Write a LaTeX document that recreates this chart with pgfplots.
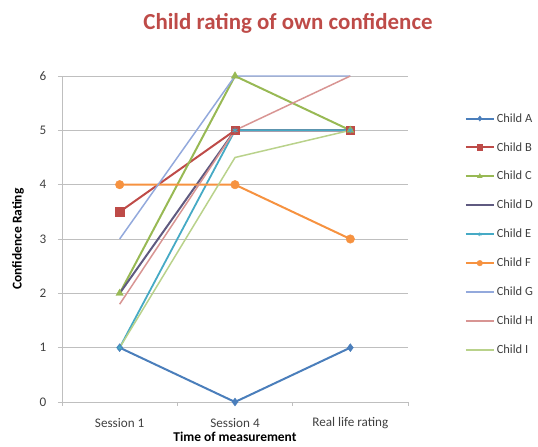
\documentclass[border=0pt]{standalone}
\usepackage{pgfplots}
\pgfplotsset{compat=1.18}
\usepackage{fontspec}
\setmainfont{Carlito}
\definecolor{cA}{HTML}{4A7EBB}
\definecolor{cB}{HTML}{BE4B48}
\definecolor{cC}{HTML}{98B954}
\definecolor{cD}{HTML}{5F5A80}
\definecolor{cE}{HTML}{46AAC5}
\definecolor{cF}{HTML}{F69240}
\definecolor{cG}{HTML}{93A9DC}
\definecolor{cH}{HTML}{D89593}
\definecolor{cI}{HTML}{B9D28B}
\definecolor{gridc}{HTML}{BFBFBF}
\definecolor{txt}{HTML}{404040}
\begin{document}
\begin{tikzpicture}
\useasboundingbox (0,0) rectangle (538bp,447bp);
\node[font=\fontsize{23}{26}\selectfont\bfseries, text=cB] at (288bp,424bp) {Child rating of own confidence};
\begin{axis}[
  at={(62bp,45bp)}, anchor=south west,
  scale only axis, width=346bp, height=326bp,
  xmin=-0.5, xmax=2.5, ymin=0, ymax=6,
  xtick={0,1,2},
  xticklabels={Session 1, Session 4, Real life rating},
  minor xtick={-0.5,0.5,1.5,2.5},
  major x tick style={draw=none},
  minor tick length=4bp,
  ytick={0,1,...,6},
  ymajorgrids, grid style={gridc, line width=0.6pt},
  axis x line*=bottom, axis y line*=left,
  axis line style={gridc, line width=0.8pt},
  every tick/.style={gridc, line width=0.8pt},
  tick align=outside, major tick length=4bp,
  tick label style={font=\fontsize{13.2}{15}\selectfont, text=txt},
  /pgf/number format/assume math mode=true,
  xticklabel style={anchor=center, yshift=-17bp},
  yticklabel style={anchor=center, xshift=-15bp},
  xlabel={Time of measurement}, ylabel={Confidence Rating},
  label style={font=\fontsize{13.5}{15}\selectfont\bfseries, text=black},
  xlabel style={at={(axis description cs:0.5,-0.106)}, anchor=center, inner sep=1pt},
  ylabel style={at={(axis description cs:-0.127,0.5)}, anchor=center},
  legend style={at={(1.155,0.898)}, anchor=north west, draw=none,
    font=\fontsize{12.5}{14}\selectfont, row sep=14.8bp, text=txt},
  legend cell align=left,
  legend image code/.code={\draw[mark repeat=2,mark phase=2, every mark/.append style={scale=0.65}] plot coordinates {(0bp,0bp) (14bp,0bp) (28bp,0bp)};},
  clip=false,
]
\addplot[cA, line width=2pt, mark=diamond*, mark size=4pt, mark options={line width=0.4pt}] coordinates {(0,1) (1,0) (2,1)};
\addplot[cB, line width=2pt, mark=square*, mark size=4.3pt, mark options={line width=0.4pt}] coordinates {(0,3.5) (1,5) (2,5)};
\addplot[cC, line width=2pt, mark=triangle*, mark size=4.3pt, mark options={line width=0.4pt}] coordinates {(0,2) (1,6) (2,5)};
\addplot[cD, line width=2pt, mark=none] coordinates {(0,2) (1,5) (2,5)};
\addplot[cE, line width=1.8pt, mark=asterisk, mark size=3pt, mark options={line width=0.8pt}] coordinates {(0,1) (1,5) (2,5)};
\addplot[cF, line width=2pt, mark=*, mark size=4.3pt, mark options={line width=0.4pt}] coordinates {(0,4) (1,4) (2,3)};
\addplot[cG, line width=1.5pt, mark=none] coordinates {(0,3) (1,6) (2,6)};
\addplot[cH, line width=1.5pt, mark=none] coordinates {(0,1.8) (1,5) (2,6)};
\addplot[cI, line width=1.5pt, mark=none] coordinates {(0,1) (1,4.5) (2,5)};
\legend{Child A, Child B, Child C, Child D, Child E, Child F, Child G, Child H, Child I}
\end{axis}
\end{tikzpicture}
\end{document}
